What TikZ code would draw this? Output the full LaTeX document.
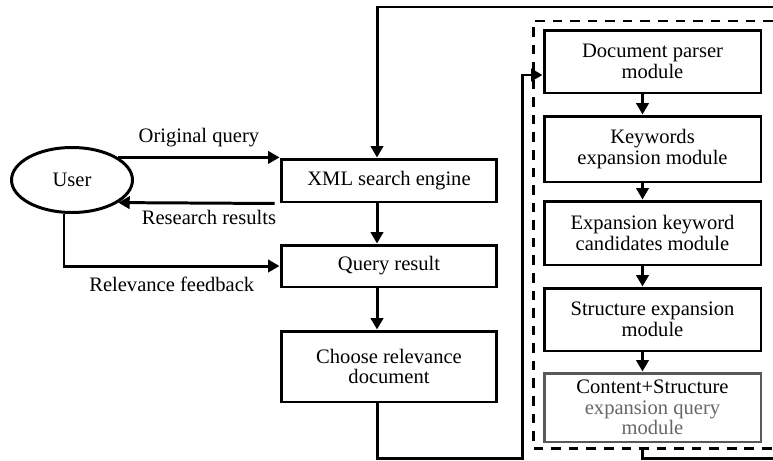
\documentclass[tikz,border=0pt]{standalone}
\usepackage{fontspec}
\setmainfont{Liberation Serif}
\usetikzlibrary{shapes.geometric, arrows.meta, positioning, calc}

\tikzset{
    module/.style={draw, line width=1.7pt, rectangle, align=center, inner sep=1pt},
    leftmod/.style={module, minimum width=4.32cm},
    rightmod/.style={module, minimum width=4.34cm},
    arr/.style={-{Triangle[length=6.5pt,width=7pt]}, line width=1.7pt},
    link/.style={line width=1.7pt},
}

\begin{document}
\begin{tikzpicture}[x=0.02cm, y=-0.02cm, font=\fontsize{11.7}{11.8}\selectfont]
    \useasboundingbox (0,0) rectangle (773,460);

    % left part
    \node[draw, ellipse, line width=1.7pt, minimum width=2.42cm, minimum height=1.3cm, inner sep=0pt] (user) at (72,180) {User};
    \node[leftmod, minimum height=0.86cm] (xml) at (389,180.5) {XML search engine};
    \node[leftmod, minimum height=0.84cm] (query) at (389,266) {Query result};
    \node[leftmod, minimum height=1.42cm] (choose) at (389,366.5) {Choose relevance\\document};

    % expansion modules
    \node[rightmod, minimum height=1.26cm] (parser) at (652.5,61.5) {Document parser\\module};
    \node[rightmod, minimum height=1.32cm] (keywords) at (652.5,149) {Keywords\\expansion module};
    \node[rightmod, minimum height=1.28cm] (candidates) at (652.5,233) {Expansion keyword\\candidates module};
    \node[rightmod, minimum height=1.26cm] (structure) at (652.5,319.5) {Structure expansion\\module};
    \node[rightmod, draw=black!65, minimum height=1.38cm] (content) at (652.5,407.5) {Content+Structure\\{\color{black!60}expansion query}\\{\color{black!60}module}};

    \draw[line width=1.7pt, dash pattern=on 5.5pt off 4.5pt] (773,21) -- (533,21) -- (533,448) -- (773,448);

    \coordinate (topright) at (773,7);
    \coordinate (turn) at (522,458);
    \coordinate (framebot) at (642,448);
    \coordinate (botright) at (773,458);

    \draw[arr] (user.26) -- (user.26 -| xml.west) node[midway, above, yshift=2pt] {Original query};
    \draw[arr] ([xshift=-0.1cm]xml.south west) -- (user.-26) node[pos=0.42, below] {Research results};
    \draw[arr] ([xshift=-0.16cm]user.south) |- (query.west) node[pos=0.75, below, yshift=-2pt] {Relevance feedback};

    \draw[arr] ([xshift=-0.24cm]xml.south) -- ([xshift=-0.24cm]query.north);
    \draw[arr] ([xshift=-0.24cm]query.south) -- ([xshift=-0.24cm]choose.north);

    \draw[arr] (topright) -| ([xshift=-0.24cm]xml.north);
    \draw[arr] ([xshift=-0.24cm]choose.south) |- (turn) |- ([yshift=-0.27cm]parser.west);

    \foreach \a/\b in {parser/keywords, keywords/candidates, candidates/structure, structure/content}
        \draw[arr] ([xshift=-0.2cm]\a.south) -- ([xshift=-0.2cm]\b.north);

    \draw[link] (framebot) |- (botright);
\end{tikzpicture}
\end{document}
